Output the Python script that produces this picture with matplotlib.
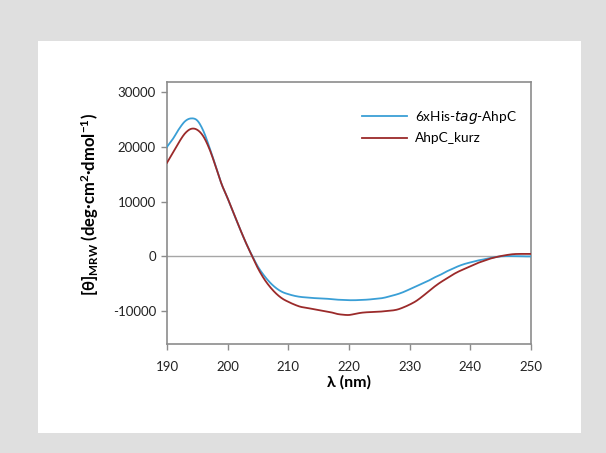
import numpy as np
import matplotlib
matplotlib.use("Agg")
import matplotlib.pyplot as plt
from matplotlib.patches import Rectangle

plt.rcParams['font.family'] = ['Lato', 'DejaVu Sans']
plt.rcParams['mathtext.default'] = 'regular'

wavelength = list(range(190, 251))

# Mean residue ellipticity, in units of 1000 deg·cm²·dmol⁻¹
his_tag_ahpc = [
    20.0, 21.5, 23.3, 24.7, 25.2, 24.8, 22.9, 19.9, 16.6, 13.2,
    10.6, 7.8, 5.1, 2.5, 0.2, -1.9, -3.5, -4.8, -5.8, -6.5,
    -6.9, -7.2, -7.4, -7.5, -7.6, -7.65, -7.7, -7.8, -7.9, -7.95,
    -8.0, -8.0, -7.95, -7.9, -7.8, -7.7, -7.5, -7.2, -6.9, -6.5,
    -6.0, -5.5, -5.0, -4.5, -3.9, -3.4, -2.8, -2.3, -1.8, -1.4,
    -1.1, -0.8, -0.6, -0.35, -0.15, 0.0, 0.05, 0.05, 0.05, 0.0,
    0.0,
]
ahpc_kurz = [
    17.1, 19.0, 20.9, 22.5, 23.3, 23.1, 21.9, 19.6, 16.5, 13.2,
    10.6, 7.8, 5.1, 2.5, 0.1, -2.2, -4.1, -5.6, -6.8, -7.7,
    -8.3, -8.8, -9.2, -9.4, -9.6, -9.8, -10.0, -10.2, -10.5, -10.65,
    -10.7, -10.5, -10.3, -10.2, -10.15, -10.1, -10.0, -9.9, -9.7, -9.3,
    -8.8, -8.2, -7.4, -6.5, -5.6, -4.8, -4.1, -3.4, -2.8, -2.3,
    -1.8, -1.3, -0.9, -0.5, -0.2, 0.05, 0.25, 0.4, 0.45, 0.45,
    0.45,
]
series_labels = ['6xHis-$\\it{tag}$-AhpC', 'AhpC_kurz']
series_colors = ['#3a9fd6', '#9b2a2a']

x_ticks = [190, 200, 210, 220, 230, 240, 250]
y_ticks = [-10000, 0, 10000, 20000, 30000]


def smooth_curve(xs, ys, steps=10):
    """Catmull-Rom spline through the measured points."""
    xs = np.asarray(xs, float)
    ys = np.asarray(ys, float)
    px = np.concatenate([[2 * xs[0] - xs[1]], xs, [2 * xs[-1] - xs[-2]]])
    py = np.concatenate([[2 * ys[0] - ys[1]], ys, [2 * ys[-1] - ys[-2]]])
    out_x, out_y = [], []
    t = np.linspace(0, 1, steps, endpoint=False)
    for i in range(1, len(px) - 2):
        for p, out in ((px, out_x), (py, out_y)):
            p0, p1, p2, p3 = p[i - 1], p[i], p[i + 1], p[i + 2]
            out.extend(0.5 * (2 * p1 + (-p0 + p2) * t
                              + (2 * p0 - 5 * p1 + 4 * p2 - p3) * t ** 2
                              + (-p0 + 3 * p1 - 3 * p2 + p3) * t ** 3))
    out_x.append(xs[-1])
    out_y.append(ys[-1])
    return np.array(out_x), np.array(out_y)


W, H = 606, 453
fig = plt.figure(figsize=(W / 100, H / 100), dpi=100)
fig.patch.set_facecolor('#dfdfdf')

# white card behind the plot
bg = fig.add_axes([0, 0, 1, 1], zorder=-10)
bg.set_axis_off()
bg.set_xlim(0, W)
bg.set_ylim(H, 0)
bg.add_patch(Rectangle((38, 41), 581 - 38, 433 - 41, facecolor='white', edgecolor='none'))

ax = fig.add_axes([167 / W, 1 - 344 / H, (531 - 167) / W, (344 - 81.7) / H])
ax.set_facecolor('white')

for vals, lab, col in zip([his_tag_ahpc, ahpc_kurz], series_labels, series_colors):
    sx, sy = smooth_curve(wavelength, vals)
    ax.plot(sx, sy * 1000, color=col, lw=1.3, label=lab, zorder=3)

ax.axhline(0, color='#a6a6a6', lw=1.0, zorder=2)

ax.set_xlim(190, 250)
ax.set_ylim(-16000, 31900)
ax.set_xticks(x_ticks)
ax.set_yticks(y_ticks)
ax.set_yticklabels([str(v) for v in y_ticks])

for s in ax.spines.values():
    s.set_color('#8c8c8c')
    s.set_linewidth(1.2)
ax.tick_params(axis='both', direction='out', length=4, width=1, color='#8c8c8c',
               labelsize=9.5, labelcolor='#222222')
ax.tick_params(axis='x', pad=8)
ax.tick_params(axis='y', pad=4)

ax.set_xlabel('λ (nm)', fontsize=11.5, fontweight='bold', labelpad=2)
ax.set_ylabel('[θ]$_{MRW}$ (deg·cm$^{2}$·dmol$^{-1}$)', fontsize=12,
              fontweight='bold')
ax.yaxis.set_label_coords(-0.18, 0.53)

leg = ax.legend(loc='upper left', bbox_to_anchor=(0.536, 0.895), frameon=False,
                borderaxespad=0, borderpad=0,
                fontsize=9.8, handlelength=3.3, handletextpad=0.6, labelspacing=0.45)

fig.savefig('out.png', dpi=100, facecolor=fig.get_facecolor())
